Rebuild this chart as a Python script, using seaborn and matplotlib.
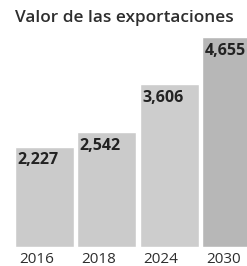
import numpy as np
import pandas as pd
import matplotlib
matplotlib.use('Agg')
import matplotlib.pyplot as plt
import seaborn as sns

# chart data
years = ['2016', '2018', '2024', '2030']
values = [2227, 2542, 3606, 4655]
labels = ['2,227', '2,542', '3,606', '4,655']
bar_colors = ['#cbcbcb', '#cbcbcb', '#cdcdcd', '#b7b7b7']

df = pd.DataFrame({'year': years, 'value': values})

sns.set_style('white')
plt.rcParams['font.family'] = ['Open Sans', 'DejaVu Sans']

W, H = 247, 266
fig = plt.figure(figsize=(W / 100, H / 100), dpi=100)
ax = fig.add_axes([15 / W, 19 / H, 232 / W, 210 / H])

sns.barplot(data=df, x='year', y='value', hue='year', palette=bar_colors,
            width=0.95, legend=False, ax=ax, saturation=1)

ax.set_ylim(0, max(values))
ax.set_xlim(-0.475, 3.25)
for s in ax.spines.values():
    s.set_visible(False)
ax.set_yticks([])
ax.set_xlabel('')
ax.set_ylabel('')

# year labels sit left-aligned under each bar
ax.set_xticks(np.arange(len(years)) - 0.41)
ax.set_xticklabels(years, ha='left', fontsize=11, color='#2e2e2e')
ax.tick_params(axis='x', length=0, pad=3.5)

# value labels inside the top-left corner of each bar
for i, (v, lab) in enumerate(zip(values, labels)):
    ax.annotate(lab, xy=(i - 0.475, v), xytext=(1.8, -4),
                textcoords='offset points', ha='left', va='top',
                fontsize=11.5, fontweight='bold', color='#222222')

fig.text(15 / W, 1 - 10 / H, 'Valor de las exportaciones', ha='left', va='top',
         fontsize=12.4, fontweight='semibold', color='#2e2e2e')

fig.savefig('out.png', dpi=100)
